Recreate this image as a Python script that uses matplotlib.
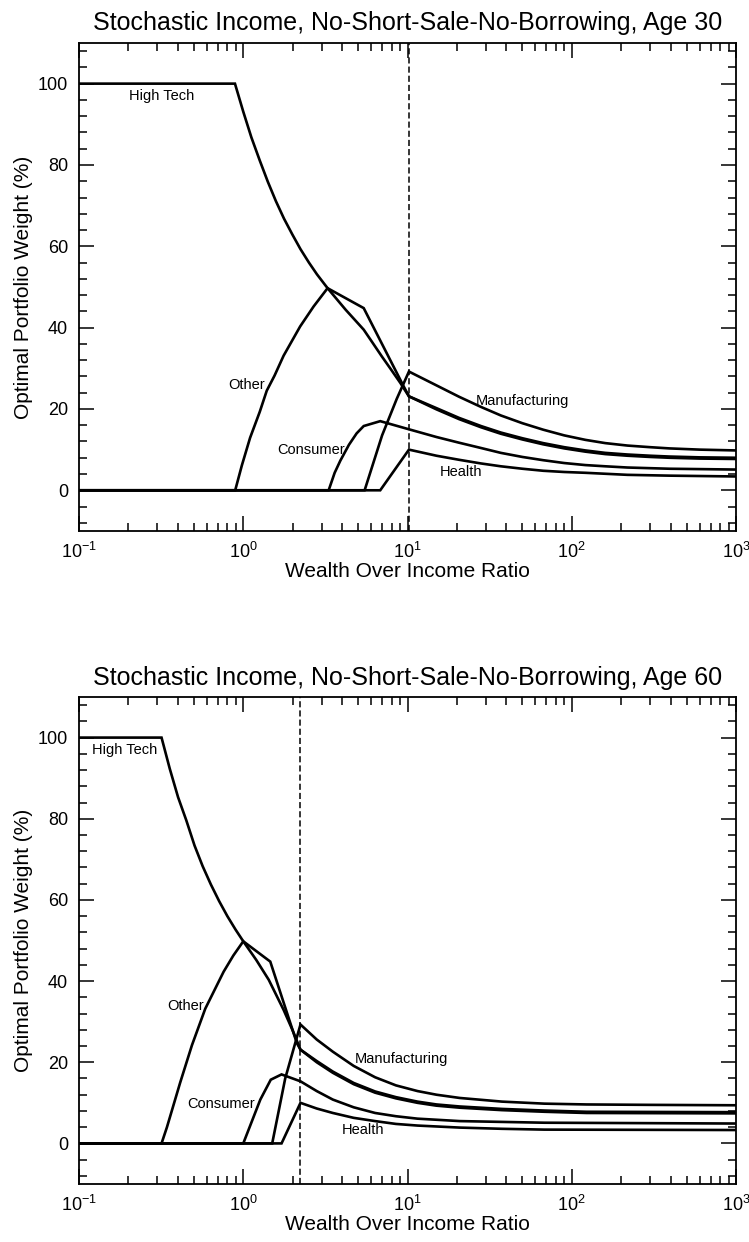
#!/usr/bin/env python3

import numpy as np
import matplotlib
matplotlib.use("Agg")
import matplotlib.pyplot as plt
from matplotlib.ticker import LogLocator, FixedLocator, MultipleLocator

plt.rcParams["font.family"] = ["Liberation Sans", "DejaVu Sans"]
plt.rcParams["mathtext.fontset"] = "custom"
plt.rcParams["mathtext.rm"] = "Liberation Sans"
plt.rcParams["mathtext.it"] = "Liberation Sans:italic"
plt.rcParams["mathtext.bf"] = "Liberation Sans:bold"
plt.rcParams["axes.unicode_minus"] = False

# ---- age 30 ----
ht30_x = [0.1, 0.89, 1.0, 1.12, 1.26, 1.41, 1.58, 1.77, 1.99, 2.23, 2.51, 2.81, 3.26,
          4.2, 5.41, 6.1, 6.98, 8.0, 9.04, 10.2,
          15, 20.6, 28, 37, 50, 67, 90, 121, 160, 218, 300, 393, 600, 1000]
ht30_y = [100, 100, 93.1, 86.8, 81.1, 75.9, 71.1, 66.8, 62.9, 59.3, 56.0, 53.1, 49.7,
          44.4, 39.5, 36.4, 32.9, 29.5, 26.4, 23.1,
          19.9, 17.5, 15.5, 13.9, 12.5, 11.3, 10.3, 9.5, 8.9, 8.5, 8.2, 8.0, 7.8, 7.7]
ot30_x = [0.1, 0.893, 0.98, 1.10, 1.26, 1.39, 1.55, 1.76, 2.22, 2.68, 3.26, 5.41, 9.46, 10.2,
          15, 20.6, 28, 37, 50, 67, 90, 121, 160, 218, 300, 393, 600, 1000]
ot30_y = [0, 0, 6.1, 12.9, 19.3, 24.5, 28.2, 33.1, 40.3, 45.2, 49.7, 44.8, 25.6, 23.1,
          20.2, 17.8, 15.8, 14.2, 12.8, 11.6, 10.6, 9.8, 9.2, 8.8, 8.5, 8.3, 8.1, 8.0]
mf30_x = [0.1, 5.48, 7.0, 8.6, 10.2, 15, 20.6, 28, 37, 50, 67, 90, 121, 160, 218, 300, 393, 600, 1000]
mf30_y = [0, 0, 13.5, 22.5, 29.2, 25.8, 23.0, 20.5, 18.4, 16.5, 14.9, 13.5, 12.4, 11.6, 11.0, 10.6, 10.3, 10.0, 9.8]
cs30_x = [0.1, 3.31, 3.6, 3.9, 4.4, 4.9, 5.41, 6.82, 10.2, 15, 20.6, 28, 37, 50, 67, 90, 121, 160, 218, 393, 1000]
cs30_y = [0, 0, 4.3, 7.3, 11.2, 14.0, 15.8, 17.0, 15.0, 13.1, 11.7, 10.4, 9.2, 8.2, 7.4, 6.7, 6.2, 5.9, 5.6, 5.3, 5.1]
he30_x = [0.1, 6.82, 10.2, 15, 20.6, 28, 37, 50, 67, 90, 121, 218, 393, 1000]
he30_y = [0, 0, 10.0, 8.5, 7.5, 6.6, 5.9, 5.3, 4.8, 4.5, 4.3, 3.8, 3.6, 3.4]
cut30 = 10.2

# ---- age 60 ----
ht60_x = [0.1, 0.318, 0.357, 0.401, 0.450, 0.505, 0.566, 0.635, 0.713, 0.800, 0.897, 1.0,
          1.2, 1.43, 1.76, 2.0, 2.23,
          2.8, 3.51, 4.7, 6.35, 8.5, 11.5, 15, 20.8, 37.6, 68, 123, 1000]
ht60_y = [100, 100, 92.3, 85.3, 79.6, 73.4, 68.3, 63.8, 59.7, 56.0, 52.7, 49.8,
          45.2, 40.3, 32.9, 27.8, 23.1,
          20.0, 17.4, 14.6, 12.5, 11.1, 10.0, 9.3, 8.8, 8.2, 7.8, 7.5, 7.4]
ot60_x = [0.1, 0.318, 0.343, 0.413, 0.487, 0.587, 0.759, 0.87, 1.0, 1.46, 2.12, 2.23,
          2.8, 3.51, 4.7, 6.35, 8.5, 11.5, 15, 20.8, 37.6, 68, 123, 1000]
ot60_y = [0, 0, 4.0, 15.0, 24.2, 33.2, 42.3, 46.3, 49.8, 44.8, 24.7, 23.1,
          20.3, 17.7, 14.9, 12.8, 11.4, 10.3, 9.6, 9.1, 8.5, 8.1, 7.8, 7.7]
mf60_x = [0.1, 1.50, 1.80, 2.23, 2.8, 3.51, 4.7, 6.35, 8.5, 11.5, 15, 20.8, 37.6, 68, 123, 300, 1000]
mf60_y = [0, 0, 16.0, 29.3, 25.6, 22.6, 19.1, 16.3, 14.3, 12.9, 12.0, 11.2, 10.3, 9.8, 9.6, 9.5, 9.4]
cs60_x = [0.1, 1.0, 1.27, 1.47, 1.71, 2.23, 2.8, 3.51, 4.7, 6.35, 8.5, 11.5, 20.8, 37.6, 68, 1000]
cs60_y = [0, 0, 10.8, 15.7, 17.0, 15.3, 12.9, 10.8, 8.9, 7.5, 6.7, 6.1, 5.5, 5.3, 5.1, 4.9]
he60_x = [0.1, 1.71, 2.23, 2.8, 3.51, 4.7, 6.35, 8.5, 11.5, 20.8, 37.6, 68, 1000]
he60_y = [0, 0, 10.0, 8.6, 7.5, 6.3, 5.5, 4.8, 4.4, 3.9, 3.6, 3.4, 3.3]
cut60 = 2.23

names = ["High Tech", "Other", "Consumer", "Manufacturing", "Health"]
lab30_pos = [(0.32, 96.9), (1.05, 25.9), (2.57, 10.0), (49.8, 22.0), (21.3, 4.4)]
lab60_pos = [(0.189, 96.9), (0.447, 33.9), (0.731, 9.8), (9.23, 20.9), (5.32, 3.3)]

panels = [
    ("Stochastic Income, No-Short-Sale-No-Borrowing, Age 30",
     [(ht30_x, ht30_y), (ot30_x, ot30_y), (mf30_x, mf30_y), (cs30_x, cs30_y), (he30_x, he30_y)],
     cut30, lab30_pos, [0.1055, 0.5725, 0.8772, 0.3929]),
    ("Stochastic Income, No-Short-Sale-No-Borrowing, Age 60",
     [(ht60_x, ht60_y), (ot60_x, ot60_y), (mf60_x, mf60_y), (cs60_x, cs60_y), (he60_x, he60_y)],
     cut60, lab60_pos, [0.1055, 0.0467, 0.8772, 0.3921]),
]

fig = plt.figure(figsize=(7.49, 12.42), dpi=100)
for title, series, cut, labpos, rect in panels:
    ax = fig.add_axes(rect)
    for xs, ys in series:
        ax.plot(xs, ys, color="black", lw=1.9, solid_joinstyle="miter")
    ax.axvline(cut, color="black", lw=1.1, ls=(0, (4, 2)))
    for name, (tx, ty) in zip(names, labpos):
        ax.text(tx, ty, name, fontsize=10.5, ha="center", va="center")
    ax.set_xscale("log")
    ax.set_xlim(0.1, 1000)
    ax.set_ylim(-10, 110)
    ax.xaxis.set_major_locator(LogLocator(base=10, numticks=10))
    ax.xaxis.set_minor_locator(LogLocator(base=10, subs=np.arange(2, 10), numticks=10))
    ax.yaxis.set_major_locator(FixedLocator([0, 20, 40, 60, 80, 100]))
    ax.yaxis.set_minor_locator(MultipleLocator(4))
    ax.tick_params(which="both", direction="in", top=True, right=True, width=1.1)
    ax.tick_params(which="major", length=11, labelsize=13, pad=8)
    ax.tick_params(which="minor", length=6)
    for sp in ax.spines.values():
        sp.set_linewidth(1.3)
    ax.set_title(title, fontsize=18, pad=9)
    ax.set_xlabel("Wealth Over Income Ratio", fontsize=15, labelpad=0)
    ax.set_ylabel("Optimal Portfolio Weight (%)", fontsize=15, labelpad=3)

plt.savefig("out.png", dpi=100)
plt.close()
